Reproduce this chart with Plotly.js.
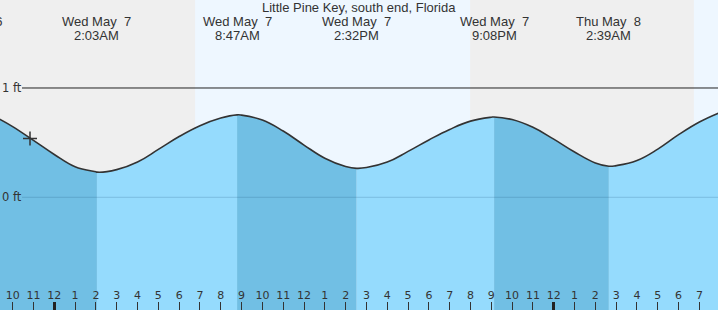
<!DOCTYPE html>
<html>
<head>
<meta charset="utf-8">
<script src="https://cdn.plot.ly/plotly-3.0.1.min.js"></script>
<style>
html,body{margin:0;padding:0;background:#efefef;}
#chart{width:718px;height:310px;}
</style>
</head>
<body>
<div id="chart"></div>
<script>
// ---- data ----
const chartTitle = "Little Pine Key, south end, Florida";
const times = [
  "2025-05-06 21:20","2025-05-06 22:00","2025-05-06 23:00",
  "2025-05-07 00:00","2025-05-07 01:00","2025-05-07 02:00","2025-05-07 02:03",
  "2025-05-07 03:00","2025-05-07 04:00","2025-05-07 05:00","2025-05-07 06:00",
  "2025-05-07 07:00","2025-05-07 08:00","2025-05-07 08:47","2025-05-07 09:00",
  "2025-05-07 10:00","2025-05-07 11:00","2025-05-07 12:00","2025-05-07 13:00",
  "2025-05-07 14:00","2025-05-07 14:32","2025-05-07 15:00","2025-05-07 16:00",
  "2025-05-07 17:00","2025-05-07 18:00","2025-05-07 19:00","2025-05-07 20:00",
  "2025-05-07 21:00","2025-05-07 21:08","2025-05-07 22:00","2025-05-07 23:00",
  "2025-05-08 00:00","2025-05-08 01:00","2025-05-08 02:00","2025-05-08 02:39",
  "2025-05-08 03:00","2025-05-08 04:00","2025-05-08 05:00","2025-05-08 06:00",
  "2025-05-08 07:00","2025-05-08 08:00"
];
const levels = [
  0.719,0.647,0.521,
  0.392,0.280,0.233,0.230,
  0.253,0.323,0.438,0.556,
  0.655,0.725,0.754,0.752,
  0.707,0.606,0.478,0.358,
  0.282,0.265,0.272,0.322,
  0.420,0.525,0.621,0.697,
  0.733,0.735,0.711,0.640,
  0.532,0.414,0.314,0.284,
  0.290,0.337,0.441,0.573,
  0.689,0.777
];
const eventTimes = ["2025-05-07 02:03","2025-05-07 08:47","2025-05-07 14:32","2025-05-07 21:08","2025-05-08 02:39"];
const eventTypes = ["L","H","L","H","L"];
const eventDates = ["Wed May  7","Wed May  7","Wed May  7","Wed May  7","Thu May  8"];
const eventClock = ["2:03AM","8:47AM","2:32PM","9:08PM","2:39AM"];
const prevEventDate = "Tue May  6";
const sunrises = ["2025-05-07 06:46","2025-05-08 06:44"];
const sunsets = ["2025-05-07 19:59"];
const midnights = ["2025-05-07 00:00","2025-05-08 00:00"];
const nowTime = ["2025-05-06 22:50"];
const nowLevel = [0.538];
const levelTicks = [0, 1];
const levelTickText = ["0 ft", "1 ft"];

// ---- layout constants ----
const xRange = ["2025-05-06 21:23:30","2025-05-08 07:53:35"];
const yRange = [-1.031, 1.805];
const floorLevel = -1.2;
const DARK = "#71bfe4";
const LIGHT = "#95dbfd";
const NIGHT = "#efefef";
const DAY = "#eef7ff";
const TXT = "#333333";
const SMOOTH = 1.2;

const traces = [];
// fill segments split at tide events
const cut = [0];
eventTimes.forEach(t => cut.push(times.indexOf(t)));
cut.push(times.length - 1);
for (let s = 0; s < cut.length - 1; s++) {
  const xs = times.slice(cut[s], cut[s+1] + 1);
  const ys = levels.slice(cut[s], cut[s+1] + 1);
  const falling = s < eventTypes.length ? eventTypes[s] === "L" : eventTypes[eventTypes.length-1] === "H";
  traces.push({x: xs, y: xs.map(() => floorLevel), mode: "lines", line: {width: 0, shape: "spline", smoothing: SMOOTH}, hoverinfo: "skip", showlegend: false});
  traces.push({x: xs, y: ys, mode: "lines", line: {width: 0, shape: "spline", smoothing: SMOOTH}, fill: "tonexty",
    fillcolor: falling ? DARK : LIGHT, hoverinfo: "skip", showlegend: false});
}
// outline
traces.push({x: times, y: levels, mode: "lines", line: {color: "#333", width: 1.6, shape: "spline", smoothing: SMOOTH}, hoverinfo: "skip", showlegend: false});
// current time marker
traces.push({x: nowTime, y: nowLevel, mode: "markers", marker: {symbol: "cross-thin", size: 10, line: {width: 1.5, color: "#333"}}, hoverinfo: "skip", showlegend: false});
// carrier for midnight axis
traces.push({x: midnights, y: midnights.map(() => null), xaxis: "x2", mode: "markers", hoverinfo: "skip", showlegend: false});

const shapes = [];
// day bands
shapes.push({type: "rect", xref: "x", yref: "paper", x0: sunrises[0], x1: sunsets[0], y0: 0, y1: 1, fillcolor: DAY, line: {width: 0}, layer: "below"});
shapes.push({type: "rect", xref: "x", yref: "paper", x0: sunrises[1], x1: xRange[1], y0: 0, y1: 1, fillcolor: DAY, line: {width: 0}, layer: "below"});
// level lines
shapes.push({type: "line", xref: "paper", yref: "y", x0: 22/718, x1: 1, y0: levelTicks[1], y1: levelTicks[1], line: {color: "#222", width: 1}, layer: "above"});
shapes.push({type: "line", xref: "paper", yref: "y", x0: 22/718, x1: 1, y0: levelTicks[0], y1: levelTicks[0], line: {color: "rgba(20,70,110,0.2)", width: 1}, layer: "above"});

const annotations = [];
const hdrFont = {family: "Liberation Sans, Arial, sans-serif", size: 13, color: TXT};
eventTimes.forEach((t, i) => {
  annotations.push({xref: "x", yref: "paper", x: t, y: 1, yanchor: "top", xanchor: "center", yshift: -12, text: eventDates[i], showarrow: false, font: hdrFont});
  annotations.push({xref: "x", yref: "paper", x: t, y: 1, yanchor: "top", xanchor: "center", yshift: -26, text: eventClock[i], showarrow: false, font: hdrFont});
});
annotations.push({xref: "paper", yref: "paper", x: 5/718, y: 1, yanchor: "top", xanchor: "right", yshift: -12, text: prevEventDate, showarrow: false, font: hdrFont});
levelTicks.forEach((v, i) => {
  annotations.push({xref: "paper", yref: "y", x: 0, y: v, xanchor: "left", yanchor: "middle", xshift: 0, text: levelTickText[i], showarrow: false,
    font: {family: "DejaVu Sans, sans-serif", size: 11.5, color: TXT}});
});
// title as annotation for precise placement
annotations.push({xref: "paper", yref: "paper", x: 0.5, y: 1, xanchor: "center", yanchor: "top", yshift: 2, text: chartTitle, showarrow: false,
  font: {family: "Liberation Sans, Arial, sans-serif", size: 13, color: TXT}});

const layout = {
  width: 718, height: 310,
  margin: {l: 0, r: 0, t: 0, b: 0, pad: 0},
  paper_bgcolor: NIGHT, plot_bgcolor: NIGHT,
  showlegend: false,
  xaxis: {type: "date", range: xRange, tick0: midnights[0], dtick: 3600000, tickformat: "%-I",
    ticks: "inside", ticklen: 8, tickwidth: 1, tickcolor: "#333", ticklabelposition: "inside",
    tickfont: {family: "DejaVu Sans, sans-serif", size: 11, color: TXT},
    showgrid: false, zeroline: false, showline: false, fixedrange: true},
  xaxis2: {type: "date", range: xRange, overlaying: "x", anchor: "y", side: "bottom", tickmode: "array", tickvals: midnights,
    ticks: "inside", ticklen: 8, tickwidth: 3, tickcolor: "#222", showticklabels: false,
    showgrid: false, zeroline: false, showline: false, fixedrange: true},
  yaxis: {range: yRange, showticklabels: false, showgrid: false, zeroline: false, showline: false, ticks: "", fixedrange: true},
  shapes: shapes,
  annotations: annotations
};

Plotly.newPlot("chart", traces, layout, {displayModeBar: false, staticPlot: true});
</script>
</body>
</html>
